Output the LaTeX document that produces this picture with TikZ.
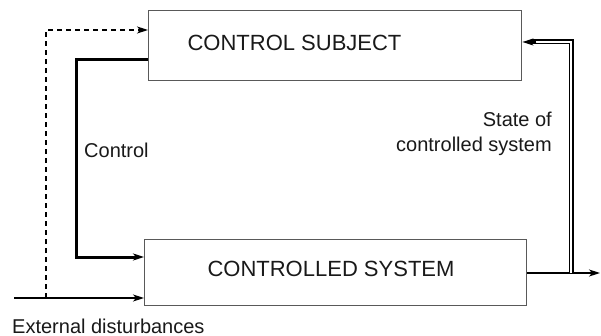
\documentclass[tikz,border=0pt]{standalone}
\usepackage{fontspec}
\setmainfont{Liberation Sans}
\usetikzlibrary{arrows.meta}
\tikzset{
  box/.style={draw=black!65, line width=1.4pt, anchor=north west, inner sep=0pt},
  big/.style={font=\fontsize{22}{26}\selectfont, inner sep=0pt, text=black!90},
  small/.style={font=\fontsize{20}{25}\selectfont, inner sep=0pt, text=black!90},
  thin/.style={line width=1.3pt},
  tip/.style={-{Stealth[length=11pt,width=7pt,inset=3pt]}},
  dashline/.style={thin, dash pattern=on 5pt off 4pt},
  feedback/.style={double, double distance=2.6pt, line width=1.2pt},
}
\begin{document}
\begin{tikzpicture}[x=1pt,y=-1pt]
\useasboundingbox (0,0) rectangle (601,336);
% boxes
\node[box, minimum width=373pt, minimum height=70pt] (subj) at (148,10) {};
\node[box, minimum width=382pt, minimum height=66pt] (sys) at (144,239) {};
\node[big, anchor=base] (subjtext) at (294.5,51) {CONTROL SUBJECT};
\node[big, anchor=base] (systext) at (331,276) {CONTROLLED SYSTEM};
% coordinates
\coordinate (ext) at (14,298);
\coordinate (dj) at (46,298);
\coordinate (out) at (600,273);
\coordinate (fbtop) at (571,42);
\coordinate (fbbot) at (571,273);
% external disturbances
\draw[thin, tip] (ext) -- (sys.west |- ext);
\draw[dashline, tip] (dj) |- (subj.west |- 0,30);
% control
\draw[line width=3pt, tip] (subj.west |- 0,60) -- (76,60) |- (sys.west |- 0,257);
% output
\draw[thin, tip] (sys.east |- out) -- (out);
% feedback
\draw[feedback] (fbbot) -- (fbtop) -- ([xshift=9pt]subj.east |- fbtop);
\draw[line width=1.6pt, tip] ([xshift=14pt]subj.east |- fbtop) -- (subj.east |- fbtop);
% labels
\node[small, anchor=base west] (ctl) at (84,158) {Control};
\node[small, anchor=base east] (st1) at (552,127) {State of};
\node[small, anchor=base east] (st2) at (552,152) {controlled system};
\node[small, anchor=base west] (extlab) at (12,333) {External disturbances};
\end{tikzpicture}
\end{document}
